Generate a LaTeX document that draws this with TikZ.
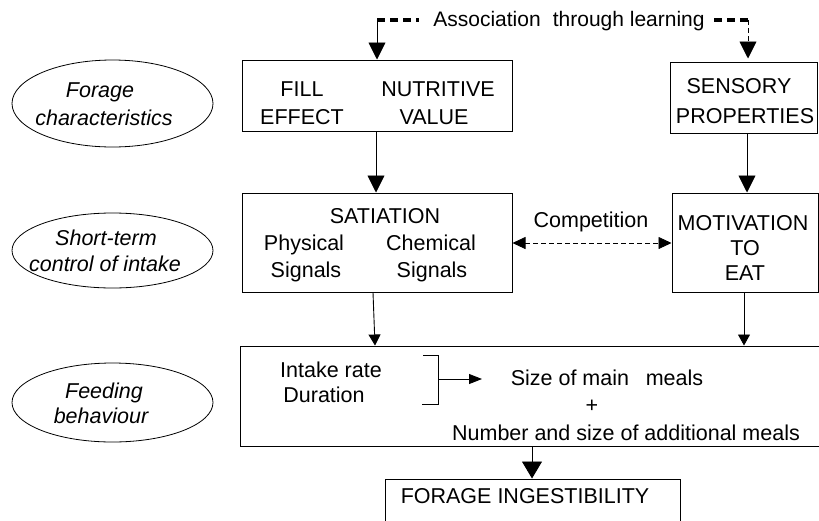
\documentclass[tikz,border=0pt]{standalone}
\usepackage{fontspec}
\setmainfont{Liberation Sans}
\usetikzlibrary{arrows.meta,calc}
\begin{document}
\begin{tikzpicture}[x=1pt,y=-1pt,
  every node/.style={font=\fontsize{21.5}{25}\selectfont},
  txt/.style={anchor=base,inner sep=0pt},
  itxt/.style={anchor=base,inner sep=0pt,font=\fontsize{21.5}{25}\selectfont\itshape},
  box/.style={draw,line width=1pt,inner sep=0pt},
  arr/.style={line width=0.9pt,-{Triangle[length=17pt,width=17pt]}},
  sarr/.style={line width=0.9pt,-{Triangle[length=11pt,width=12pt]}},
  thickdash/.style={line width=3.2pt,dash pattern=on 8pt off 5pt},
  thindash/.style={line width=0.8pt,dash pattern=on 5pt off 3pt}]
\useasboundingbox (0,0) rectangle (819,520);
\clip (0,0) rectangle (819,520);
% ellipses
\draw[line width=0.8pt] (112.5,103.5) ellipse [x radius=100.5, y radius=43.5];
\node[itxt] (e1a) at (100,97) {Forage};
\node[itxt] (e1b) at (104,125) {characteristics};
\draw[line width=0.8pt] (112.5,250.5) ellipse [x radius=100.5, y radius=37.5];
\node[itxt] (e2a) at (106,245) {Short-term};
\node[itxt] (e2b) at (105,271) {control of intake};
\draw[line width=0.8pt] (112.5,402.5) ellipse [x radius=100.5, y radius=39.5];
\node[itxt] (e3a) at (104,398) {Feeding};
\node[itxt] (e3b) at (101,423) {behaviour};
% boxes
\node[box,minimum width=270pt,minimum height=71pt] (fill) at (377,95.5) {};
\node[box,minimum width=147pt,minimum height=71pt] (sens) at (744,97.5) {};
\node[box,minimum width=270pt,minimum height=99pt] (sat) at (377,242.5) {};
\node[box,minimum width=146pt,minimum height=99pt] (mot) at (745,242.5) {};
\node[box,minimum width=590pt,minimum height=100pt] (feed) at (535,396) {};
\node[box,minimum width=295pt,minimum height=61pt] (forage) at (532.5,509.5) {};
% box texts
\node[txt] (t1) at (302,96.5) {FILL};
\node[txt] (t2) at (438,96.5) {NUTRITIVE};
\node[txt] (t3) at (302,124) {EFFECT};
\node[txt] (t4) at (434,124) {VALUE};
\node[txt] (t5) at (739,93) {SENSORY};
\node[txt] (t6) at (745,123) {PROPERTIES};
\node[txt] (t7) at (385,223) {SATIATION};
\node[txt] (t8) at (304,250) {Physical};
\node[txt] (t9) at (431,250) {Chemical};
\node[txt] (t10) at (306,277) {Signals};
\node[txt] (t11) at (432,277) {Signals};
\node[txt] (t12) at (743,230) {MOTIVATION};
\node[txt] (t13) at (745,255) {TO};
\node[txt] (t14) at (745,280) {EAT};
\node[txt] (t15) at (331,377) {Intake rate};
\node[txt] (t16) at (324,402) {Duration};
\node[txt] (t17) at (607,385) {Size of main\hspace{0.5em} meals};
\node[txt] (t18) at (592,412) {+};
\node[txt] (t19) at (626,440) {Number and size of additional meals};
\node[txt] (t20) at (525,503) {FORAGE INGESTIBILITY};
\node[txt] (comp) at (591,227) {Competition};
% association through learning
\node[txt,font=\fontsize{21}{25}\selectfont] (assoc) at (569,26) {Association\hspace{0.3em} through learning};
\coordinate (aL) at (377,20);
\coordinate (aR) at (748,20);
\coordinate (aLe) at (419,20);
\coordinate (aRs) at (714,20);
\draw[thickdash] (aL) -- (aLe);
\draw[thickdash] (aRs) -- (aR);
\draw[arr] (aL) -- (aL |- fill.north);
\draw[thindash] (aR) -- ($(aR |- sens.north)+(0,-19)$);
\draw[-{Triangle[length=17pt,width=17pt]},line width=0.9pt] ($(aR |- sens.north)+(0,-19)$) -- ($(aR |- sens.north)+(0,-3)$);
% vertical arrows
\draw[arr] (fill.south -| 376,0) -- (sat.north -| 376,0);
\draw[arr] (sens.south -| 747,0) -- (mot.north -| 747,0);
\draw[sarr] (sat.south -| 373,0) -- (feed.north -| 375,0);
\draw[sarr] (mot.south -| 744,0) -- (feed.north -| 744,0);
\draw[line width=0.9pt,-{Triangle[length=17pt,width=20pt]}] (feed.south -| 532,0) -- (forage.north -| 532,0);
% competition
\draw[thindash,{Triangle[length=13pt,width=12pt]}-{Triangle[length=13pt,width=12pt]}] (sat.east |- 0,243) -- (mot.west |- 0,243);
% bracket
\coordinate (b1) at (423,355);
\coordinate (b2) at (438,355);
\coordinate (b3) at (438,404);
\coordinate (b4) at (422,404);
\coordinate (bm) at (438,379);
\coordinate (btip) at (482,379);
\draw[line width=0.9pt] (b1) -- (b2) -- (b3) -- (b4);
\draw[line width=0.9pt,-{Triangle[length=13pt,width=10pt]}] (bm) -- (btip);
\end{tikzpicture}
\end{document}
